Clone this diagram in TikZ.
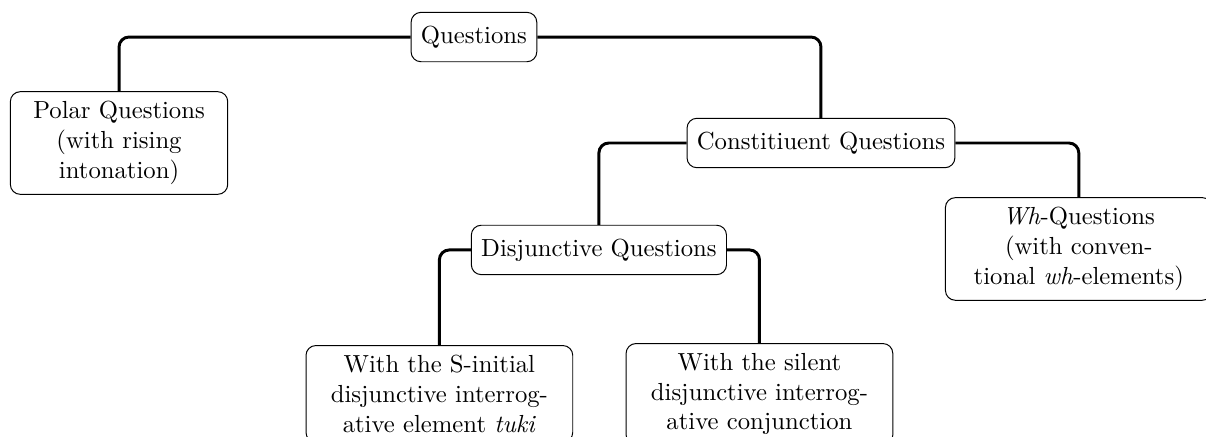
\documentclass[tikz,border=0pt]{standalone}
\usepackage{amssymb,amsmath}
\usepackage{tikz}
\usetikzlibrary{arrows,backgrounds}

\begin{document}
\begin{tikzpicture}[x=1pt,y=1pt,
      qbox/.style={draw, rounded corners=4pt, inner xsep=4pt, inner ysep=4pt,
                   minimum height=20pt, align=center, fill=white},
      qlink/.style={very thick, rounded corners=4pt}]
      \useasboundingbox (0,0) rectangle (488.3,-176.9);
      \node[name=q, qbox] at (191.9,-15.0){Questions};
      \node[name=polar, qbox, text width=80pt] at (48.2,-57.9)
           {Polar Questions\\(with rising\\intonation)};
      \node[name=const, qbox] at (332.4,-57.9){Constitiuent Questions};
      \node[name=disj, qbox] at (242.5,-101.2){Disjunctive Questions};
      \node[name=wh, qbox, text width=100pt] at (436.8,-100.8)
           {\textit{Wh}-Questions\\(with conven-\\tional \textit{wh}-elements)};
      \node[name=tuki, qbox, text width=100pt, anchor=north] at (177.9,-139.7)
           {With the S-initial\\disjunctive interrog-\\ative element \textit{tuki}};
      \node[name=silent, qbox, text width=100pt, anchor=north] at (307.5,-138.9)
           {With the silent\\disjunctive interrog-\\ative conjunction};
      % connectors
      \begin{scope}[on background layer]
      \draw[qlink] (q.west) -| (polar.north);
      \draw[qlink] (q.east) -| (const.north);
      \draw[qlink] (const.west) -| (disj.north);
      \draw[qlink] (const.east) -| (wh.north);
      \draw[qlink] (disj.west) -| (tuki.north);
      \draw[qlink] (disj.east) -| (silent.north);
      \end{scope}
   \end{tikzpicture}
\end{document}
